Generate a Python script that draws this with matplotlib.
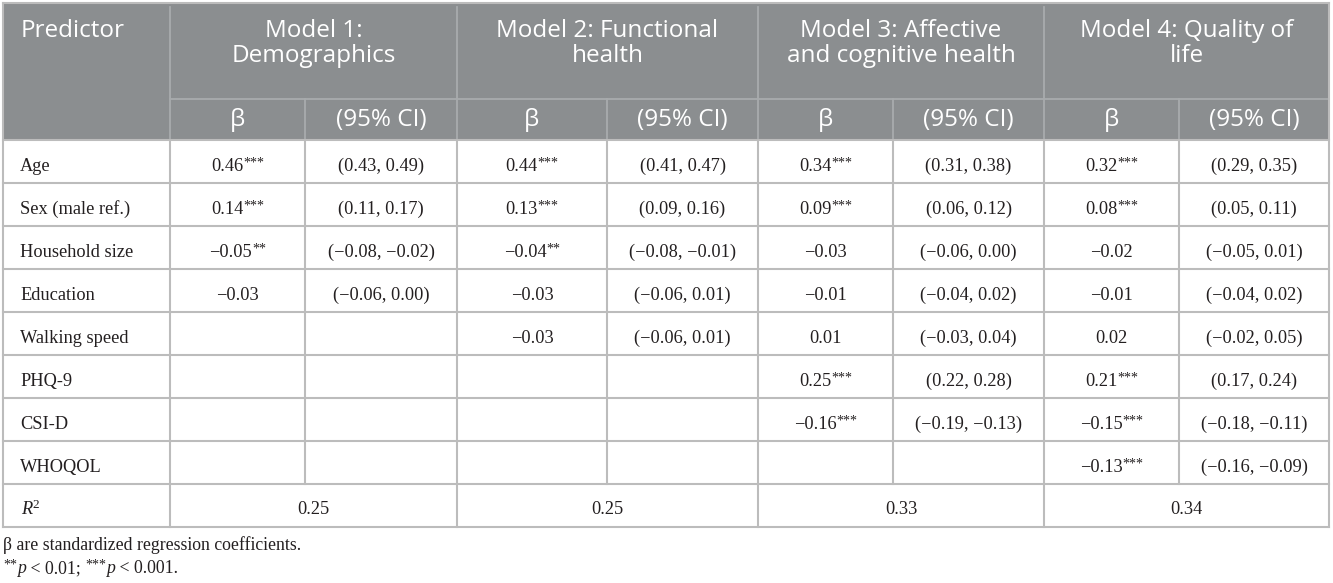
import matplotlib
matplotlib.use("Agg")
import matplotlib.pyplot as plt
from matplotlib.patches import Rectangle

# table content
predictors = ["Age", "Sex (male ref.)", "Household size", "Education",
              "Walking speed", "PHQ-9", "CSI-D", "WHOQOL"]
model_titles = [["Model 1:", "Demographics"],
                ["Model 2: Functional", "health"],
                ["Model 3: Affective", "and cognitive health"],
                ["Model 4: Quality of", "life"]]
# beta, ci low, ci high, stars per model (None = empty cell)
m1_beta = [0.46, 0.14, -0.05, -0.03, None, None, None, None]
m1_lo = [0.43, 0.11, -0.08, -0.06, None, None, None, None]
m1_hi = [0.49, 0.17, -0.02, 0.00, None, None, None, None]
m1_sig = ["***", "***", "**", "", "", "", "", ""]
m2_beta = [0.44, 0.13, -0.04, -0.03, -0.03, None, None, None]
m2_lo = [0.41, 0.09, -0.08, -0.06, -0.06, None, None, None]
m2_hi = [0.47, 0.16, -0.01, 0.01, 0.01, None, None, None]
m2_sig = ["***", "***", "**", "", "", "", "", ""]
m3_beta = [0.34, 0.09, -0.03, -0.01, 0.01, 0.25, -0.16, None]
m3_lo = [0.31, 0.06, -0.06, -0.04, -0.03, 0.22, -0.19, None]
m3_hi = [0.38, 0.12, 0.00, 0.02, 0.04, 0.28, -0.13, None]
m3_sig = ["***", "***", "", "", "", "***", "***", ""]
m4_beta = [0.32, 0.08, -0.02, -0.01, 0.02, 0.21, -0.15, -0.13]
m4_lo = [0.29, 0.05, -0.05, -0.04, -0.02, 0.17, -0.18, -0.16]
m4_hi = [0.35, 0.11, 0.01, 0.02, 0.05, 0.24, -0.11, -0.09]
m4_sig = ["***", "***", "", "", "", "***", "***", "***"]
r_squared = [0.25, 0.25, 0.33, 0.34]

models = [(m1_beta, m1_lo, m1_hi, m1_sig), (m2_beta, m2_lo, m2_hi, m2_sig),
          (m3_beta, m3_lo, m3_hi, m3_sig), (m4_beta, m4_lo, m4_hi, m4_sig)]

# layout (pixels)
W, H = 1333, 583
col_edges = [3, 170, 305, 457, 607, 758, 893, 1044, 1179, 1329]
top, hdr1, hdr2 = 3, 99, 140
row_h = 43
body_bottom = hdr2 + row_h * (len(predictors) + 1)

HDR_BG = "#8b8e90"
HDR_LINE = "#a8abad"
GRID = "#bcbcbc"
TXT = "#231f20"
SERIF = "Liberation Serif"
SANS = "Open Sans"
HDR_SIZE = 17.5
BODY_SIZE = 13.2
NOTE_SIZE = 12.8
STAR_SIZE = 10

fig = plt.figure(figsize=(W / 100, H / 100), dpi=100)
ax = fig.add_axes([0, 0, 1, 1])
ax.set_xlim(0, W)
ax.set_ylim(H, 0)
ax.axis("off")
rend = fig.canvas.get_renderer()


def fmt(v):
    s = "%.2f" % v
    return s.replace("-", "\u2212")


def runs(x, y, parts, align="center"):
    # parts: (text, style, raise in px)
    objs, widths = [], []
    for s, kw, dy in parts:
        t = ax.text(0, y - dy, s, ha="left", va="baseline", color=TXT, **kw)
        widths.append(t.get_window_extent(rend).width)
        objs.append(t)
    x0 = x - sum(widths) / 2 if align == "center" else x
    for t, w in zip(objs, widths):
        t.set_x(x0)
        x0 += w


def body(x, y, s, **kw):
    ax.text(x, y, s, ha="center", va="baseline", color=TXT,
            family=SERIF, size=BODY_SIZE, **kw)


RM = dict(family=SERIF, size=BODY_SIZE)
IT = dict(family=SERIF, size=BODY_SIZE, style="italic")
SUP = dict(family=SERIF, size=STAR_SIZE)

# header background
ax.add_patch(Rectangle((col_edges[0], top), col_edges[-1] - col_edges[0], hdr2 - top,
                       facecolor=HDR_BG, edgecolor="none", zorder=0))
# header lines
ax.plot([col_edges[1], col_edges[-1]], [hdr1, hdr1], color=HDR_LINE, lw=1.3)
for i in (1, 3, 5, 7):
    ax.plot([col_edges[i]] * 2, [top + 4, hdr2], color=HDR_LINE, lw=1.3)
for i in (2, 4, 6, 8):
    ax.plot([col_edges[i]] * 2, [hdr1, hdr2], color=HDR_LINE, lw=1.3)

ax.text(21, 37, "Predictor", ha="left", va="baseline", color="white",
        family=SANS, size=HDR_SIZE)
for k, lines in enumerate(model_titles):
    cx = (col_edges[1 + 2 * k] + col_edges[3 + 2 * k]) / 2
    for j, line in enumerate(lines):
        ax.text(cx, 37 + 25 * j, line, ha="center", va="baseline",
                color="white", family=SANS, size=HDR_SIZE)
    for j, lab in enumerate(["\u03b2", "(95% CI)"]):
        c = (col_edges[1 + 2 * k + j] + col_edges[2 + 2 * k + j]) / 2
        ax.text(c, 126, lab, ha="center", va="baseline", color="white",
                family=SANS, size=HDR_SIZE)

# body grid
for r in range(len(predictors) + 2):
    y = hdr2 + r * row_h
    ax.plot([col_edges[0], col_edges[-1]], [y, y], color=GRID, lw=1.5)
ax.plot([col_edges[0], col_edges[0]], [top, body_bottom], color=GRID, lw=1.5)
ax.plot([col_edges[-1], col_edges[-1]], [top, body_bottom], color=GRID, lw=1.5)
ax.plot([col_edges[0], col_edges[-1]], [top, top], color=GRID, lw=1.5)
r2_top = hdr2 + len(predictors) * row_h
for i in range(1, len(col_edges) - 1):
    y1 = body_bottom if i % 2 == 1 else r2_top
    ax.plot([col_edges[i]] * 2, [hdr2, y1], color=GRID, lw=1.5)

# body text
for r, name in enumerate(predictors):
    yb = hdr2 + (r + 1) * row_h - 12
    ax.text(20, yb, name, ha="left", va="baseline", color=TXT,
            family=SERIF, size=BODY_SIZE)
    for k, (beta, lo, hi, sig) in enumerate(models):
        if beta[r] is None:
            continue
        cb = (col_edges[1 + 2 * k] + col_edges[2 + 2 * k]) / 2
        cc = (col_edges[2 + 2 * k] + col_edges[3 + 2 * k]) / 2
        parts = [(fmt(beta[r]), RM, 0)]
        if sig[r]:
            parts.append((sig[r], SUP, 4))
        runs(cb, yb, parts)
        body(cc, yb, "(%s, %s)" % (fmt(lo[r]), fmt(hi[r])))

yb = body_bottom - 13
runs(21, yb, [("R", IT, 0), ("2", dict(family=SERIF, size=STAR_SIZE * 0.95), 6)],
     align="left")
for k, v in enumerate(r_squared):
    cx = (col_edges[1 + 2 * k] + col_edges[3 + 2 * k]) / 2
    body(cx, yb, "%.2f" % v)

# footnotes
NRM = dict(family=SERIF, size=NOTE_SIZE)
NIT = dict(family=SERIF, size=NOTE_SIZE, style="italic")
ax.text(3, 550, "\u03b2 are standardized regression coefficients.", ha="left",
        va="baseline", color=TXT, **NRM)
runs(3, 573, [("**", SUP, 4), ("p", NIT, 0), (" < 0.01; ", NRM, 0),
              ("***", SUP, 4), ("p", NIT, 0), (" < 0.001.", NRM, 0)], align="left")

fig.savefig("out.png", dpi=100)
